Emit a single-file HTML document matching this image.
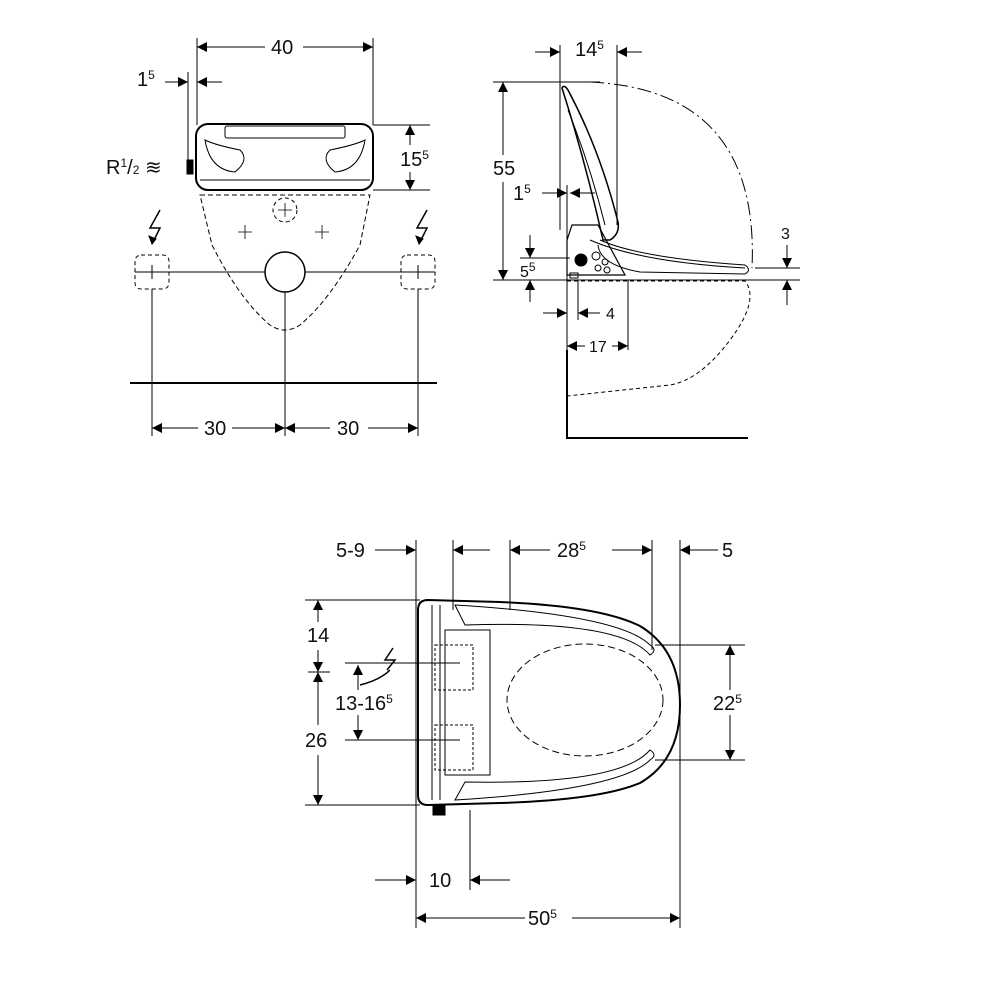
<!DOCTYPE html>
<html><head><meta charset="utf-8"><style>
body{margin:0;background:#fff}
svg{display:block}
text{font-family:"Liberation Sans",sans-serif;font-size:20px;fill:#111}
.s{font-size:12px}
</style></head><body>
<svg width="1000" height="1000" viewBox="0 0 1000 1000" xmlns="http://www.w3.org/2000/svg">
<defs>
<marker id="a" viewBox="0 0 10 10" refX="10" refY="5" markerWidth="14" markerHeight="10" markerUnits="userSpaceOnUse" orient="auto-start-reverse"><path d="M0,0L10,5L0,10z" fill="#000"/></marker>
</defs>
<g stroke="#000" fill="none" stroke-width="1">
<!-- TOP LEFT -->
<line x1="197" y1="38" x2="197" y2="125"/><line x1="373" y1="38" x2="373" y2="125"/>
<line x1="197" y1="47" x2="265" y2="47" marker-start="url(#a)"/><line x1="303" y1="47" x2="373" y2="47" marker-end="url(#a)"/>
<line x1="188" y1="72" x2="188" y2="165"/>
<line x1="165" y1="82" x2="188" y2="82" marker-end="url(#a)"/><line x1="222" y1="82" x2="197" y2="82" marker-end="url(#a)"/>
<line x1="373" y1="125" x2="430" y2="125"/><line x1="373" y1="190" x2="430" y2="190"/>
<line x1="410" y1="125" x2="410" y2="145" marker-start="url(#a)"/><line x1="410" y1="172" x2="410" y2="190" marker-end="url(#a)"/>
<rect x="196" y="124" width="177" height="66" rx="12" stroke-width="2"/>
<rect x="225" y="126" width="120" height="12" rx="2"/>
<path d="M205,140 Q210,170 235,172 Q250,160 240,150 Q215,145 205,140Z"/>
<path d="M365,140 Q360,170 335,172 Q320,160 330,150 Q355,145 365,140Z"/>
<line x1="200" y1="180" x2="370" y2="180"/>
<rect x="187" y="160" width="6" height="14" fill="#000"/>
<path d="M200,195 L370,195 L360,245 Q330,300 300,325 Q285,335 270,325 Q240,300 212,245Z" stroke-dasharray="5,3"/>
<circle cx="285" cy="210" r="12" stroke-dasharray="4,3"/>
<circle cx="285" cy="272" r="20" stroke-width="1.5"/>
<path d="M238,232h14M245,225v14M315,232h14M322,225v14M278,210h14M285,203v14" stroke-width="0.8"/>
<line x1="135" y1="272" x2="265" y2="272"/><line x1="305" y1="272" x2="435" y2="272"/>
<rect x="135" y="255" width="34" height="34" rx="6" stroke-dasharray="4,3"/>
<rect x="401" y="255" width="34" height="34" rx="6" stroke-dasharray="4,3"/>
<path d="M145,272h14M152,265v14M411,272h14M418,265v14"/>
<path d="M160,210 L150,228 L160,228 L152,244" stroke-width="1.5"/><path d="M427,210 L417,228 L427,228 L419,244" stroke-width="1.5"/>
<path d="M152,244 l-3,-8 l7,3z M419,244 l-3,-8 l7,3z" fill="#000"/>
<line x1="152" y1="289" x2="152" y2="436"/><line x1="285" y1="292" x2="285" y2="436"/><line x1="418" y1="289" x2="418" y2="436"/>
<line x1="130" y1="383" x2="437" y2="383" stroke-width="2"/>
<line x1="152" y1="428" x2="198" y2="428" marker-start="url(#a)"/><line x1="232" y1="428" x2="285" y2="428" marker-end="url(#a)"/>
<line x1="285" y1="428" x2="330" y2="428" marker-start="url(#a)"/><line x1="368" y1="428" x2="418" y2="428" marker-end="url(#a)"/>
<!-- TOP RIGHT -->
<line x1="560" y1="45" x2="560" y2="230"/><line x1="617" y1="45" x2="617" y2="225"/>
<line x1="535" y1="52" x2="560" y2="52" marker-end="url(#a)"/><line x1="642" y1="52" x2="617" y2="52" marker-end="url(#a)"/>
<line x1="493" y1="82" x2="600" y2="82"/><line x1="493" y1="280" x2="800" y2="280"/>
<line x1="503" y1="82" x2="503" y2="155" marker-start="url(#a)"/><line x1="503" y1="182" x2="503" y2="280" marker-end="url(#a)"/>
<path d="M590,82 Q760,90 752,268" stroke-dasharray="14,4,2,4"/>
<path d="M562,88 Q564,84 568,90 Q600,150 618,222 Q620,234 610,240 L603,240 Q585,160 562,88Z" stroke-width="1.5"/>
<path d="M568,110 Q590,165 605,225" />
<path d="M600,240 Q640,258 745,265 Q752,270 745,274 L640,272 Q600,265 598,245"/>
<path d="M590,240 Q640,262 745,268"/>
<path d="M572,225 L598,225 L625,275 L567,275 L567,240Z" stroke-width="1.2"/>
<circle cx="581" cy="260" r="6" fill="#000"/>
<circle cx="596" cy="256" r="4"/><circle cx="605" cy="262" r="3"/><circle cx="598" cy="268" r="3"/><circle cx="607" cy="270" r="3"/>
<rect x="570" y="273" width="8" height="5"/>
<line x1="567" y1="185" x2="567" y2="350"/><line x1="628" y1="280" x2="628" y2="350"/>
<line x1="542" y1="193" x2="567" y2="193" marker-end="url(#a)"/><line x1="595" y1="193" x2="570" y2="193" marker-end="url(#a)"/>
<line x1="520" y1="258" x2="570" y2="258"/>
<line x1="530" y1="235" x2="530" y2="258" marker-end="url(#a)"/><line x1="530" y1="302" x2="530" y2="280" marker-end="url(#a)"/>
<line x1="755" y1="268" x2="800" y2="268"/>
<line x1="787" y1="245" x2="787" y2="268" marker-end="url(#a)"/><line x1="787" y1="305" x2="787" y2="280" marker-end="url(#a)"/>
<line x1="543" y1="313" x2="567" y2="313" marker-end="url(#a)"/><line x1="600" y1="313" x2="578" y2="313" marker-end="url(#a)"/>
<line x1="578" y1="280" x2="578" y2="320"/>
<line x1="567" y1="346" x2="585" y2="346" marker-start="url(#a)"/><line x1="612" y1="346" x2="628" y2="346" marker-end="url(#a)"/>
<path d="M567,281 L745,281 Q760,300 730,340 Q700,380 670,385 L567,396" stroke-dasharray="4,3"/>
<path d="M567,350 L567,438 L748,438" stroke-width="2"/>
<!-- BOTTOM -->
<line x1="416" y1="540" x2="416" y2="928"/><line x1="453" y1="540" x2="453" y2="610"/><line x1="510" y1="540" x2="510" y2="610"/>
<line x1="652" y1="540" x2="652" y2="650"/><line x1="680" y1="540" x2="680" y2="928"/>
<line x1="375" y1="550" x2="416" y2="550" marker-end="url(#a)"/>
<line x1="490" y1="550" x2="453" y2="550" marker-end="url(#a)"/>
<line x1="510" y1="550" x2="550" y2="550" marker-start="url(#a)"/><line x1="612" y1="550" x2="652" y2="550" marker-end="url(#a)"/>
<line x1="718" y1="550" x2="680" y2="550" marker-end="url(#a)"/>
<path d="M428,600 L500,602 Q600,606 640,626 Q680,650 680,705 Q680,760 640,783 Q600,800 500,803 L428,805 Q418,805 418,795 L418,610 Q418,600 428,600Z" stroke-width="2"/>
<path d="M455,605 Q620,615 650,645 Q658,650 650,655 Q620,620 465,625 Z"/>
<path d="M455,800 Q620,790 650,760 Q658,755 650,750 Q620,785 465,782 Z"/>
<rect x="445" y="630" width="45" height="145"/>
<line x1="432" y1="605" x2="432" y2="800"/><line x1="440" y1="605" x2="440" y2="800"/>
<rect x="435" y="645" width="38" height="45" stroke-dasharray="3,2"/>
<rect x="435" y="725" width="38" height="45" stroke-dasharray="3,2"/>
<ellipse cx="585" cy="700" rx="78" ry="56" stroke-dasharray="7,4"/>
<rect x="433" y="805" width="12" height="10" fill="#000"/>
<line x1="305" y1="600" x2="420" y2="600"/><line x1="305" y1="805" x2="420" y2="805"/>
<line x1="308" y1="672" x2="330" y2="672"/>
<line x1="318" y1="600" x2="318" y2="622" marker-start="url(#a)"/><line x1="318" y1="650" x2="318" y2="672" marker-end="url(#a)"/>
<line x1="318" y1="672" x2="318" y2="725" marker-start="url(#a)"/><line x1="318" y1="755" x2="318" y2="805" marker-end="url(#a)"/>
<line x1="345" y1="663" x2="460" y2="663"/><line x1="345" y1="740" x2="460" y2="740"/>
<line x1="358" y1="690" x2="358" y2="665" marker-end="url(#a)"/><line x1="358" y1="715" x2="358" y2="740" marker-end="url(#a)"/>
<path d="M393,648 L385,660 L395,660 L387,670" stroke-width="1.5"/><path d="M360,685 Q380,680 390,670" stroke-width="1.5"/>
<line x1="655" y1="645" x2="745" y2="645"/><line x1="655" y1="760" x2="745" y2="760"/>
<line x1="730" y1="645" x2="730" y2="690" marker-start="url(#a)"/><line x1="730" y1="715" x2="730" y2="760" marker-end="url(#a)"/>
<line x1="470" y1="810" x2="470" y2="890"/>
<line x1="375" y1="880" x2="416" y2="880" marker-end="url(#a)"/><line x1="510" y1="880" x2="470" y2="880" marker-end="url(#a)"/>
<line x1="416" y1="918" x2="525" y2="918" marker-start="url(#a)"/><line x1="572" y1="918" x2="680" y2="918" marker-end="url(#a)"/>
</g>
<text x="271" y="54">40</text>
<text x="137" y="86">1<tspan class="s" dy="-7">5</tspan></text>
<text x="400" y="166">15<tspan class="s" dy="-7">5</tspan></text>
<text x="106" y="174">R<tspan class="s" dy="-7">1</tspan><tspan dy="7">/</tspan><tspan class="s">2</tspan> ≋</text>
<text x="204" y="435">30</text><text x="337" y="435">30</text>
<text x="575" y="56" >14<tspan class="s" dy="-7">5</tspan></text>
<text x="493" y="175">55</text>
<text x="513" y="200">1<tspan class="s" dy="-7">5</tspan></text>
<text x="781" y="239" style="font-size:16px">3</text>
<text x="520" y="277" style="font-size:16px">5<tspan class="s" dy="-6">5</tspan></text>
<text x="606" y="319" style="font-size:16px">4</text>
<text x="589" y="352" style="font-size:16px">17</text>
<text x="336" y="557">5-9</text>
<text x="557" y="557">28<tspan class="s" dy="-7">5</tspan></text>
<text x="722" y="557">5</text>
<text x="307" y="642">14</text>
<text x="335" y="710">13-16<tspan class="s" dy="-7">5</tspan></text>
<text x="305" y="747">26</text>
<text x="713" y="710">22<tspan class="s" dy="-7">5</tspan></text>
<text x="429" y="887">10</text>
<text x="528" y="925">50<tspan class="s" dy="-7">5</tspan></text>
</svg>
</body></html>
